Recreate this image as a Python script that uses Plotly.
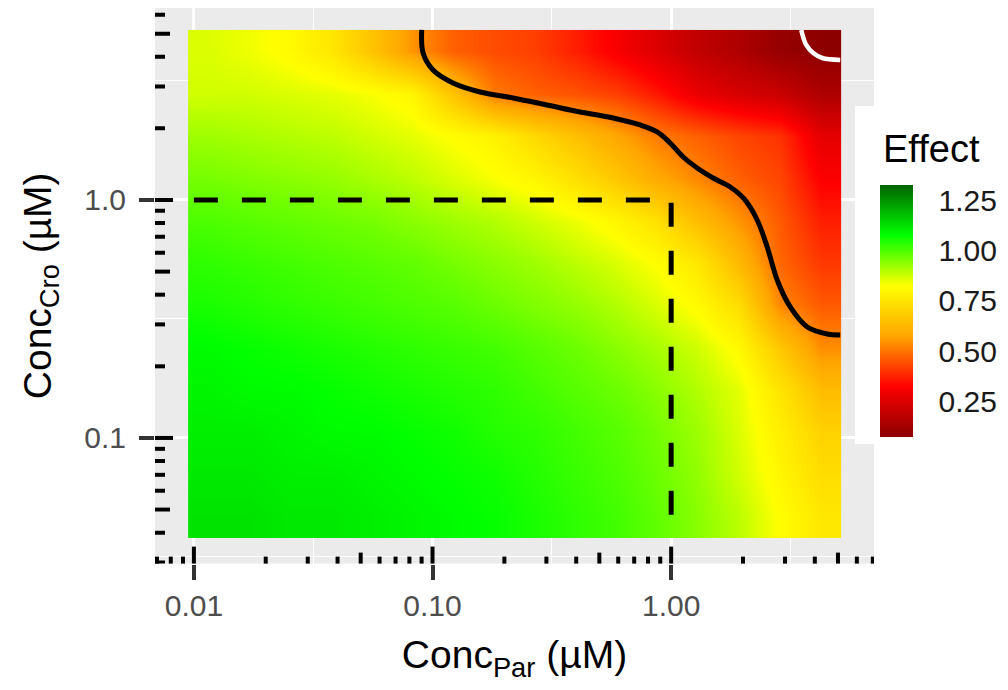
import numpy as np
import plotly.graph_objects as go

# ---------------- data ----------------
# cell centres of the effect surface (µM)
conc_par = [0.0115, 0.0170, 0.0252, 0.0374, 0.0556, 0.0824, 0.122, 0.181,
            0.269, 0.399, 0.592, 0.877, 1.30, 1.93, 2.86, 4.24]
conc_cro = [0.0466, 0.0702, 0.106, 0.159, 0.240, 0.361, 0.543, 0.819,
            1.23, 1.86, 2.80, 4.22]

# effect values, one row per conc_cro (bottom -> top), one column per conc_par
effect = [
    [1.12, 1.12, 1.11, 1.11, 1.10, 1.09, 1.08, 1.07, 1.05, 1.03, 1.01, 0.98, 0.94, 0.89, 0.82, 0.76],
    [1.11, 1.11, 1.10, 1.10, 1.09, 1.08, 1.07, 1.06, 1.04, 1.02, 1.00, 0.97, 0.93, 0.87, 0.80, 0.73],
    [1.10, 1.10, 1.09, 1.08, 1.08, 1.07, 1.06, 1.04, 1.03, 1.01, 0.99, 0.96, 0.92, 0.86, 0.78, 0.70],
    [1.09, 1.08, 1.08, 1.07, 1.06, 1.05, 1.04, 1.03, 1.01, 0.99, 0.97, 0.94, 0.90, 0.85, 0.75, 0.64],
    [1.08, 1.07, 1.06, 1.05, 1.04, 1.03, 1.02, 1.01, 0.99, 0.97, 0.94, 0.91, 0.87, 0.81, 0.67, 0.54],
    [1.05, 1.04, 1.03, 1.02, 1.01, 1.00, 0.99, 0.97, 0.95, 0.93, 0.90, 0.86, 0.81, 0.73, 0.53, 0.46],
    [1.03, 1.02, 1.01, 1.00, 0.99, 0.98, 0.96, 0.94, 0.92, 0.89, 0.86, 0.82, 0.76, 0.63, 0.48, 0.41],
    [1.00, 0.99, 0.98, 0.97, 0.96, 0.94, 0.92, 0.90, 0.87, 0.84, 0.80, 0.74, 0.64, 0.55, 0.46, 0.37],
    [0.96, 0.95, 0.94, 0.93, 0.91, 0.89, 0.86, 0.83, 0.80, 0.74, 0.67, 0.59, 0.53, 0.47, 0.43, 0.32],
    [0.92, 0.91, 0.90, 0.89, 0.87, 0.85, 0.82, 0.79, 0.72, 0.65, 0.58, 0.51, 0.47, 0.43, 0.40, 0.27],
    [0.87, 0.87, 0.86, 0.85, 0.83, 0.80, 0.66, 0.51, 0.47, 0.45, 0.42, 0.36, 0.28, 0.24, 0.21, 0.15],
    [0.86, 0.84, 0.81, 0.76, 0.66, 0.55, 0.47, 0.44, 0.42, 0.37, 0.31, 0.25, 0.19, 0.15, 0.10, 0.08],
]

# black iso-effect line
iso_par = [0.0901, 0.0913, 0.1005, 0.1219, 0.1582, 0.2176, 0.302, 0.4154, 0.5713,
           0.7413, 0.8737, 0.9904, 1.123, 1.285, 1.500, 1.768, 2.024, 2.294, 2.526,
           2.782, 3.155, 3.718, 4.509, 5.11]
iso_cro = [5.18, 4.146, 3.517, 3.102, 2.843, 2.683, 2.507, 2.343, 2.211,
           2.066, 1.931, 1.736, 1.516, 1.363, 1.237, 1.134, 1.010, 0.824, 0.6347,
           0.4611, 0.3551, 0.2926, 0.2735, 0.2709]

# white iso-effect line (top right corner)
iso2_par = [3.509, 3.681, 3.939, 4.297, 5.11]
iso2_cro = [5.18, 4.48, 4.146, 3.95, 3.874]

# dashed reference lines
ref_par = [0.01, 1.0, 1.0]
ref_cro = [1.0, 1.0, 0.04]

# axis ticks
x_major = [0.01, 0.1, 1.0]
x_major_text = ["0.01", "0.10", "1.00"]
y_major = [0.1, 1.0]
y_major_text = ["0.1", "1.0"]
x_logticks = [0.007, 0.008, 0.009, 0.01, 0.02, 0.03, 0.04, 0.05, 0.06, 0.07, 0.08, 0.09,
              0.1, 0.2, 0.3, 0.4, 0.5, 0.6, 0.7, 0.8, 0.9, 1, 2, 3, 4, 5, 6, 7]
y_logticks = [0.03, 0.04, 0.05, 0.06, 0.07, 0.08, 0.09, 0.1, 0.2, 0.3, 0.4, 0.5, 0.6,
              0.7, 0.8, 0.9, 1, 2, 3, 4, 5, 6]

effect_ticks = [0.25, 0.50, 0.75, 1.00, 1.25]
effect_range = [0.075, 1.325]

# ---------------- layout constants ----------------
# the page body has an 8 px margin: the figure starts at page pixel (8, 8)
OFF = 8
W, H = 1008 - OFF, 690 - OFF
FONT = "Liberation Sans, Arial, Helvetica, sans-serif"


def pxx(p):  # page x pixel -> paper fraction
    return (p - OFF) / W


def pxy(p):  # page y pixel -> paper fraction
    return 1 - (p - OFF) / H


px_l, px_r, px_t, px_b = 155, 874, 4.6, 563.6
x_range = [-2.163, 0.850]
y_range = [-1.528, 0.821]
dom_x = [pxx(px_l), pxx(px_r)]
dom_y = [pxy(px_b), min(1.0, pxy(px_t))]
panel_w = (dom_x[1] - dom_x[0]) * W
panel_h = (dom_y[1] - dom_y[0]) * H
# keep data scale consistent if the top got clipped
y_range = [y_range[0], y_range[0] + (y_range[1] - y_range[0]) * panel_h / (px_b - px_t)]

lx = np.log10

fig = go.Figure()

fig.add_trace(go.Heatmap(
    x=lx(conc_par), y=lx(conc_cro), z=effect,
    zmin=effect_range[0], zmax=effect_range[1], zsmooth="best",
    colorscale=[[0.0, "#8B0000"], [0.2, "#FF0000"], [0.4, "#FFA500"],
                [0.6, "#FFFF00"], [0.8, "#00FF00"], [1.0, "#006400"]],
    hoverinfo="skip",
    colorbar=dict(
        x=pxx(880), xanchor="left", xpad=0,
        y=pxy(311), yanchor="middle", ypad=0,
        len=252, lenmode="pixels", thickness=33, thicknessmode="pixels",
        outlinewidth=0,
        tickvals=effect_ticks, ticktext=[f"{v:.2f}" for v in effect_ticks],
        ticks="outside", ticklen=20, tickcolor="rgba(0,0,0,0)",
        tickfont=dict(family=FONT, size=30, color="#1A1A1A"),
    ),
))

fig.add_trace(go.Scatter(
    x=lx(ref_par), y=lx(ref_cro), mode="lines",
    line=dict(color="black", width=5, dash="24px,24px"),
    hoverinfo="skip", showlegend=False))

fig.add_trace(go.Scatter(
    x=lx(iso_par), y=lx(iso_cro), mode="lines",
    line=dict(color="black", width=5, shape="spline", smoothing=1.0),
    hoverinfo="skip", showlegend=False))

fig.add_trace(go.Scatter(
    x=lx(iso2_par), y=lx(iso2_cro), mode="lines",
    line=dict(color="white", width=4.5, shape="spline", smoothing=1.0),
    hoverinfo="skip", showlegend=False))

# ---------------- log tick annotations (inside panel edges) ----------------
shapes = []


def tick_kind(v):
    m = round(v / 10 ** np.floor(np.log10(v) + 1e-9))
    return "long" if m == 1 else ("mid" if m == 5 else "short")


bottom_len = {"short": 7, "mid": 11, "long": 17}
left_len = {"short": 10, "mid": 15, "long": 18}
for v in x_logticks:
    L = bottom_len[tick_kind(v)]
    shapes.append(dict(type="line", xref="x", yref="y domain",
                       x0=lx(v), x1=lx(v), y0=0, y1=L / panel_h,
                       line=dict(color="black", width=4), layer="above"))
for v in y_logticks:
    L = left_len[tick_kind(v)]
    shapes.append(dict(type="line", xref="x domain", yref="y",
                       x0=0, x1=L / panel_w, y0=lx(v), y1=lx(v),
                       line=dict(color="black", width=4), layer="above"))

# legend background box
shapes.append(dict(type="rect", xref="paper", yref="paper",
                   x0=pxx(855), x1=1.0, y0=pxy(444), y1=pxy(106),
                   fillcolor="white", line=dict(width=0), layer="above"))

# white tick marks inside the colour bar
bar_top, bar_bot = 311 - 126, 311 + 126
for v in effect_ticks:
    frac = (v - effect_range[0]) / (effect_range[1] - effect_range[0])
    py = bar_bot - frac * (bar_bot - bar_top)
    for xa, xb in [(880, 886), (907, 913)]:
        shapes.append(dict(type="line", xref="paper", yref="paper",
                           x0=pxx(xa), x1=pxx(xb), y0=pxy(py), y1=pxy(py),
                           line=dict(color="white", width=1.5), layer="above"))

axis_common = dict(
    showline=False, zeroline=False,
    ticks="outside", ticklen=15, tickwidth=4, tickcolor="#333333",
    showgrid=True, gridcolor="white", gridwidth=2.6,
    tickfont=dict(family=FONT, size=30, color="#4D4D4D"),
    fixedrange=True,
)

fig.update_layout(
    width=W, height=H,
    margin=dict(l=0, r=0, t=0, b=0),
    paper_bgcolor="white", plot_bgcolor="#EBEBEB",
    showlegend=False,
    font=dict(family=FONT),
    shapes=shapes,
    xaxis=dict(
        domain=dom_x, range=x_range, tickmode="array",
        tickvals=lx(x_major), ticktext=x_major_text,
        minor=dict(tickvals=[-1.5, -0.5, 0.5], showgrid=True,
                   gridcolor="white", gridwidth=1.3),
        title=dict(text="Conc<sub>Par</sub> (µM)", standoff=20,
                   font=dict(family=FONT, size=39, color="black")),
        anchor="y",
        **axis_common),
    yaxis=dict(
        domain=dom_y, range=y_range, tickmode="array",
        tickvals=lx(y_major), ticktext=y_major_text,
        ticklabelstandoff=7,
        minor=dict(tickvals=[-1.5, -0.5, 0.5], showgrid=True,
                   gridcolor="white", gridwidth=1.3),
        title=dict(text="Conc<sub>Cro</sub> (µM)", standoff=20,
                   font=dict(family=FONT, size=39, color="black")),
        anchor="x",
        **axis_common),
    annotations=[dict(
        text="Effect", xref="paper", yref="paper",
        x=pxx(881), y=pxy(149), xanchor="left", yanchor="middle",
        showarrow=False, font=dict(family=FONT, size=38, color="black"))],
)

fig.write_html("out.html")
